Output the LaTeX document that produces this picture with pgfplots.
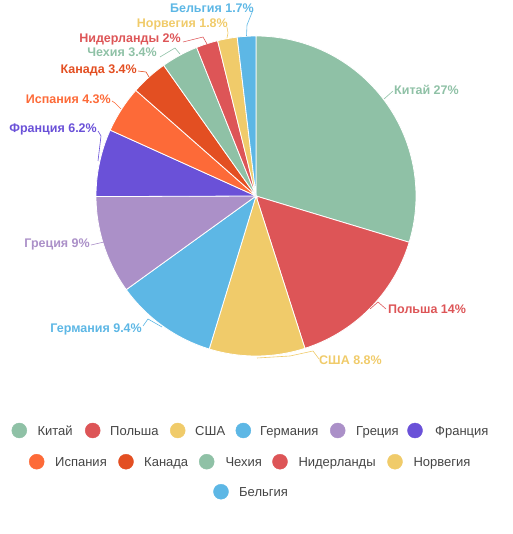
\documentclass[border=0pt]{standalone}
\usepackage{pgfplots}
\pgfplotsset{compat=1.18}
\usepackage{fontspec}
\setmainfont{Liberation Sans}
\definecolor{cA}{HTML}{8FC1A6}
\definecolor{cB}{HTML}{DD5557}
\definecolor{cC}{HTML}{F0CB6A}
\definecolor{cD}{HTML}{5DB7E5}
\definecolor{cE}{HTML}{AB90C8}
\definecolor{cF}{HTML}{6A51D8}
\definecolor{cG}{HTML}{FD6A38}
\definecolor{cH}{HTML}{E34F22}
\definecolor{legtext}{HTML}{444444}
\begin{document}
\begin{tikzpicture}
\begin{axis}[width=512pt,height=534pt,scale only axis,
  xmin=0,xmax=512,ymin=0,ymax=534,y dir=reverse,
  hide axis,clip=false]
% pie slices: value/colour, total = 91, clockwise from top
\xdef\cum{90}
\foreach \v/\c in {27/cA,14/cB,8.8/cC,9.4/cD,9/cE,6.2/cF,4.3/cG,3.4/cH,3.4/cA,2/cB,1.8/cC,1.7/cD}{
  \pgfmathsetmacro\sweep{\v/91*360}
  \pgfmathsetmacro\en{\cum-\sweep}
  \edef\tmp{\noexpand\fill[\c,draw=white,line width=0.8pt] (axis cs:256,196) -- ++(\cum:160pt) arc[start angle=\cum,end angle=\en,radius=160pt] -- cycle;}
  \tmp
  \xdef\cum{\en}
}
% leader lines
\addplot[cA,line width=0.6pt] coordinates {(384,99) (393,91)};
\addplot[cB,line width=0.6pt] coordinates {(370,309) (378,302) (386,309)};
\addplot[cC,line width=0.6pt] coordinates {(257,358) (290,356) (313,351) (319,359)};
\addplot[cD,line width=0.6pt] coordinates {(143,326) (148,319) (162,327)};
\addplot[cE,line width=0.6pt] coordinates {(91,245) (104,242)};
\addplot[cF,line width=0.6pt] coordinates {(98,131) (101,136) (98,161)};
\addplot[cG,line width=0.6pt] coordinates {(112,101) (115,103) (121,109)};
\addplot[cH,line width=0.6pt] coordinates {(138,71) (146,72) (149,77)};
\addplot[cA,line width=0.6pt] coordinates {(160,57) (175,48) (180,54)};
\addplot[cB,line width=0.6pt] coordinates {(183,42) (203,37) (207,44)};
\addplot[cC,line width=0.6pt] coordinates {(227,27) (228,33) (227,38)};
\addplot[cD,line width=0.6pt] coordinates {(253,10) (247,25) (246.5,36)};
% labels
\begin{scope}[every node/.style={inner sep=0pt,text height=9pt,text depth=0pt,font=\fontsize{12.5}{15}\selectfont\bfseries}]
\node[anchor=west,text=cA] at (axis cs:394,90) {Китай 27\%};
\node[anchor=west,text=cB] at (axis cs:388,309) {Польша 14\%};
\node[anchor=west,text=cC] at (axis cs:319,360) {США 8.8\%};
\node[anchor=east,text=cD] at (axis cs:142,328) {Германия 9.4\%};
\node[anchor=east,text=cE] at (axis cs:90,243) {Греция 9\%};
\node[anchor=east,text=cF] at (axis cs:97,128) {Франция 6.2\%};
\node[anchor=east,text=cG] at (axis cs:111,99) {Испания 4.3\%};
\node[anchor=east,text=cH] at (axis cs:137,69) {Канада 3.4\%};
\node[anchor=east,text=cA] at (axis cs:157,52) {Чехия 3.4\%};
\node[anchor=east,text=cB] at (axis cs:181,38) {Нидерланды 2\%};
\node[anchor=east,text=cC] at (axis cs:228,23) {Норвегия 1.8\%};
\node[anchor=east,text=cD] at (axis cs:254,8) {Бельгия 1.7\%};
\end{scope}
% legend markers
\addplot[only marks,mark=*,mark size=7.5pt,cA] coordinates {(19.3,430.5) (206.7,461.7)};
\addplot[only marks,mark=*,mark size=7.5pt,cB] coordinates {(92.7,430.5) (280,461.7)};
\addplot[only marks,mark=*,mark size=7.5pt,cC] coordinates {(177.7,430.5) (395,461.7)};
\addplot[only marks,mark=*,mark size=7.5pt,cD] coordinates {(243.3,430.5) (221,491.7)};
\addplot[only marks,mark=*,mark size=7.5pt,cE] coordinates {(337.7,430.5)};
\addplot[only marks,mark=*,mark size=7.5pt,cF] coordinates {(415,430.5)};
\addplot[only marks,mark=*,mark size=7.5pt,cG] coordinates {(36.7,461.7)};
\addplot[only marks,mark=*,mark size=7.5pt,cH] coordinates {(126,461.7)};
\begin{scope}[every node/.style={inner sep=0pt,anchor=west,text height=9.4pt,text depth=0pt,text=legtext,font=\fontsize{13}{15}\selectfont}]
\node at (axis cs:37.3,430.5) {Китай};
\node at (axis cs:110,430.5) {Польша};
\node at (axis cs:195,430.5) {США};
\node at (axis cs:260,430.5) {Германия};
\node at (axis cs:356,430.5) {Греция};
\node at (axis cs:435,430.5) {Франция};
\node at (axis cs:55,461.7) {Испания};
\node at (axis cs:144,461.7) {Канада};
\node at (axis cs:225.3,461.7) {Чехия};
\node at (axis cs:298.3,461.7) {Нидерланды};
\node at (axis cs:413.3,461.7) {Норвегия};
\node at (axis cs:239,491.7) {Бельгия};
\end{scope}
\end{axis}
\pgfresetboundingbox
\useasboundingbox (0,0) rectangle (512pt,534pt);
\end{tikzpicture}
\end{document}
